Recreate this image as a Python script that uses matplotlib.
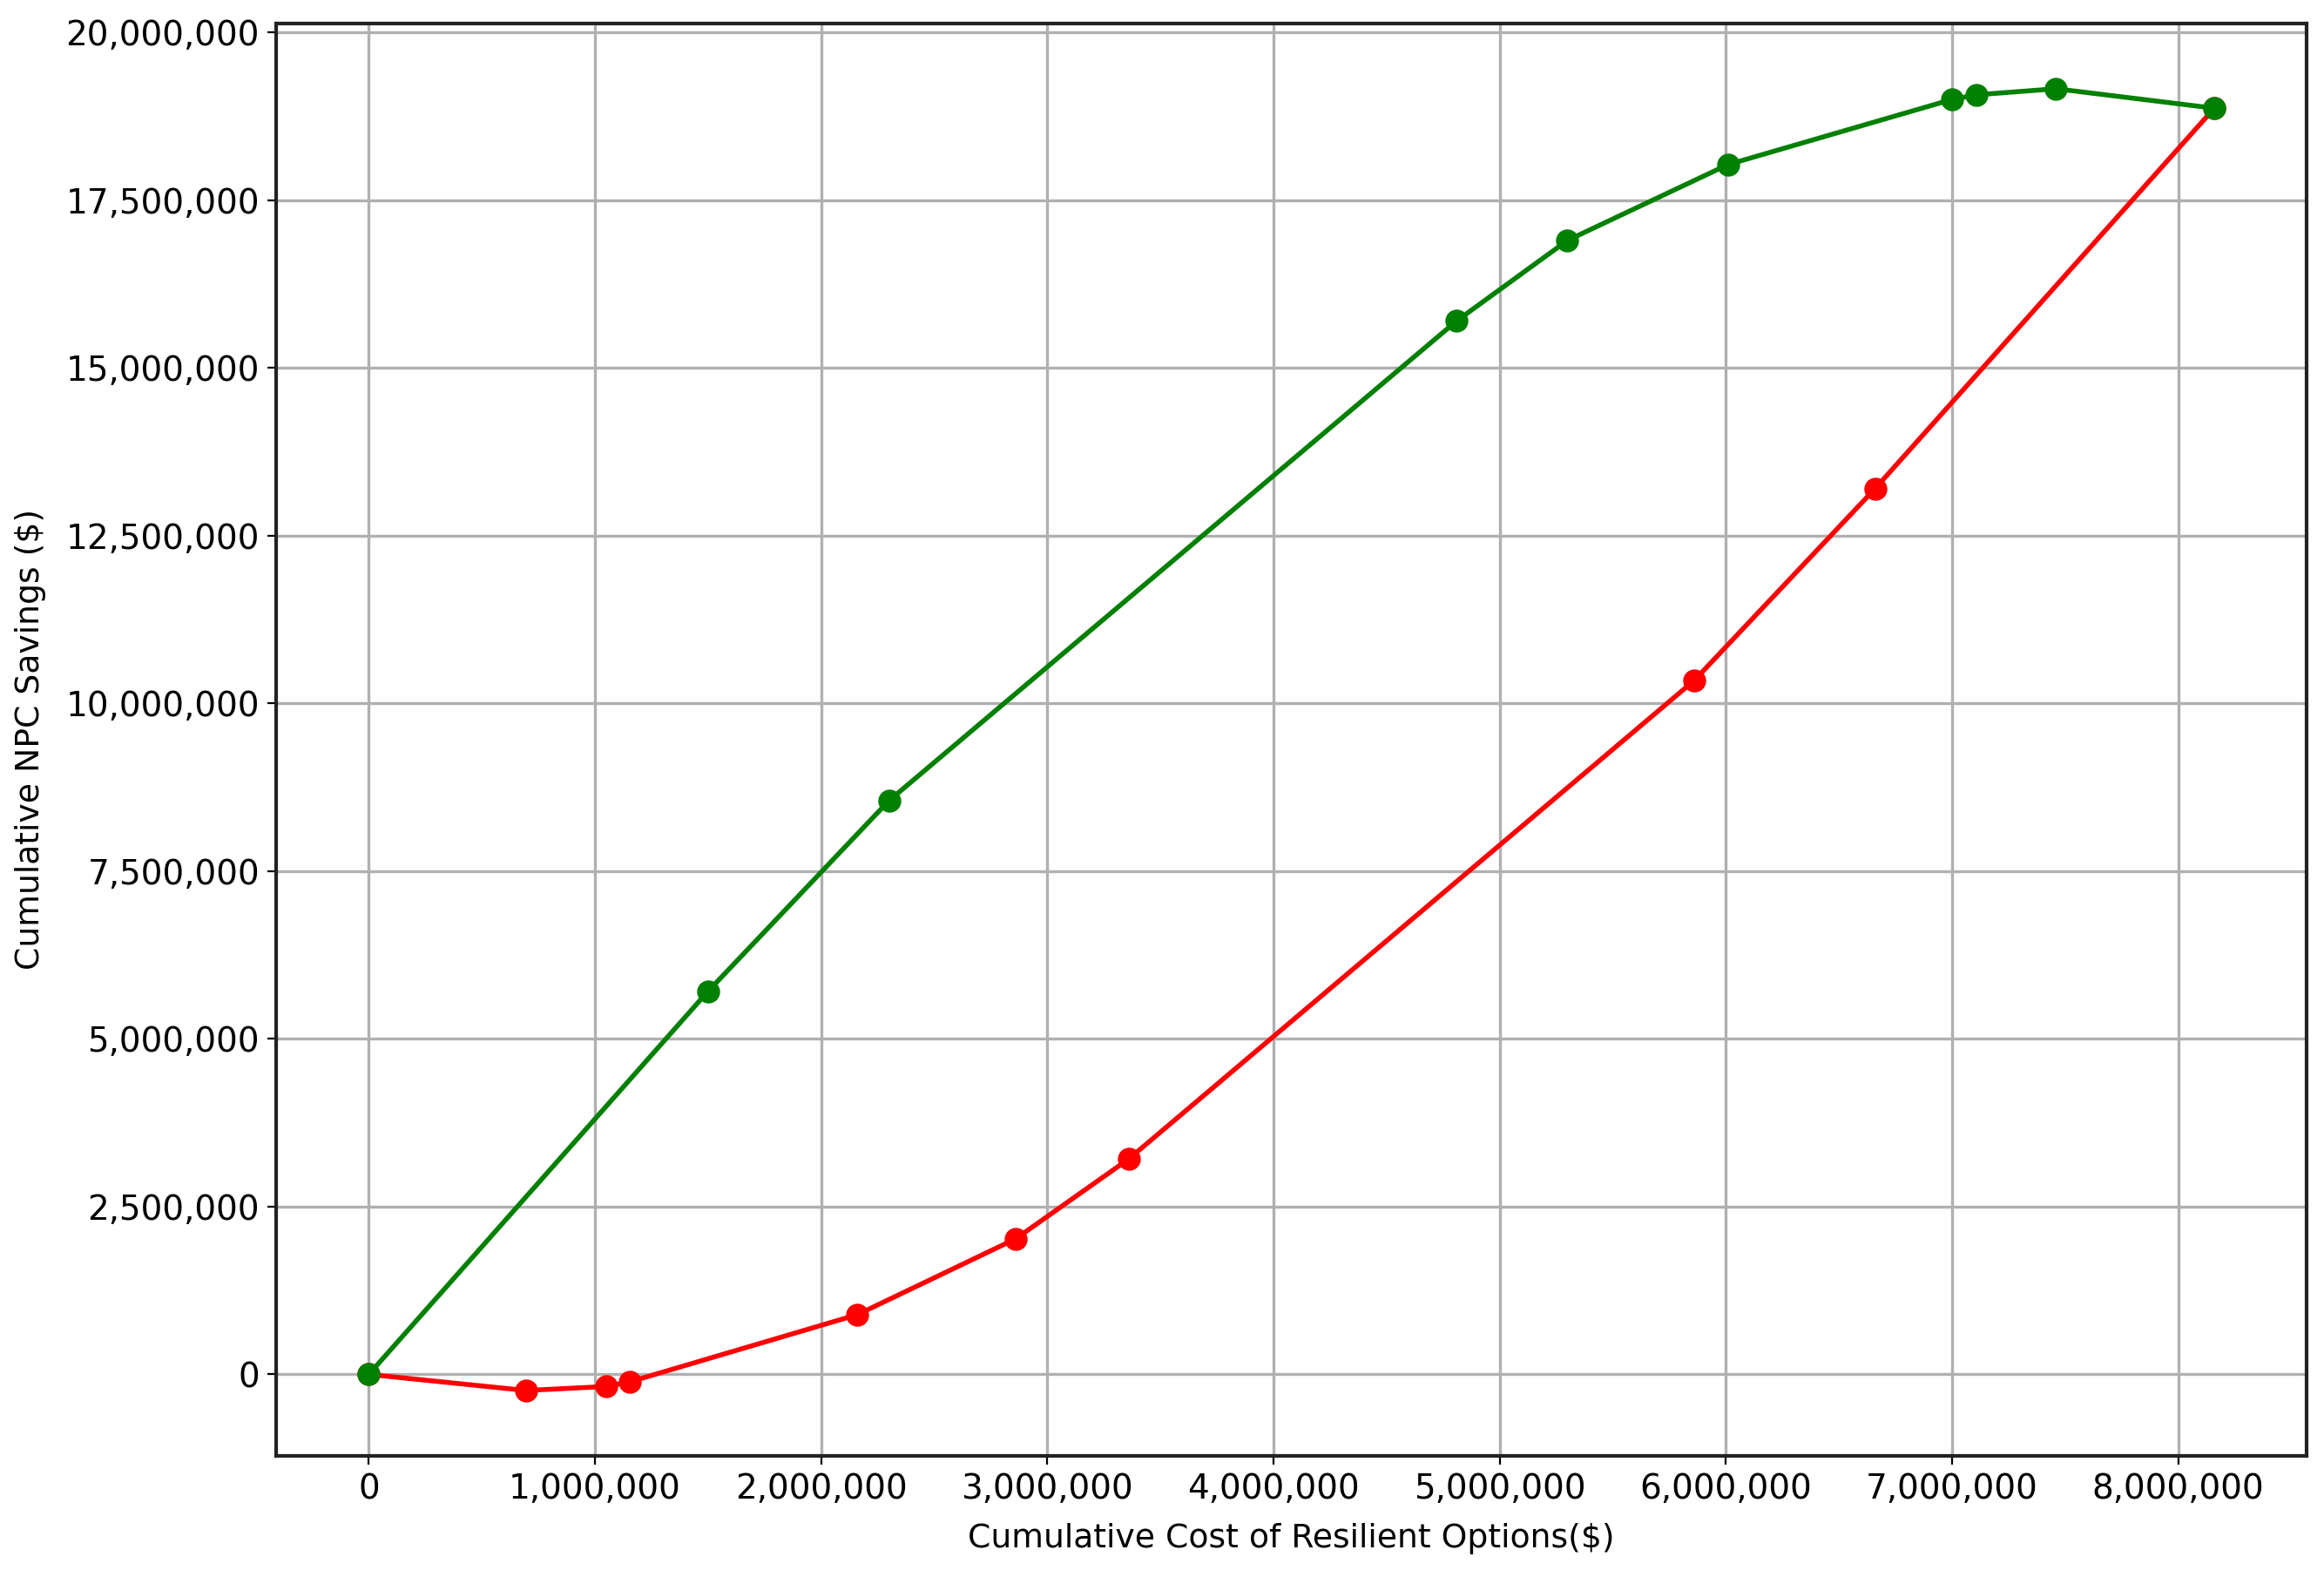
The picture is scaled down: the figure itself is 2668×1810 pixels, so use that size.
import matplotlib
matplotlib.use('Agg')
import matplotlib.pyplot as plt
from matplotlib.ticker import FuncFormatter

plt.rcParams['font.family'] = ['DejaVu Sans']
plt.rcParams['font.size'] = 14

# green series: cumulative cost vs cumulative NPC savings
green_cost = [0, 1500000, 2300000, 4810000, 5300000, 6010000, 7000000, 7110000, 7460000, 8160000]
green_sav = [0, 5710000, 8550000, 15700000, 16900000, 18030000, 19000000, 19070000, 19160000, 18870000]

# red series
red_cost = [0, 695000, 1050000, 1155000, 2160000, 2860000, 3360000, 5860000, 6660000, 8160000]
red_sav = [0, -240000, -180000, -110000, 890000, 2020000, 3210000, 10340000, 13200000, 18870000]

fig = plt.figure(figsize=(13.34, 9.05), dpi=200)
ax = fig.add_axes([0.119, 0.077, 0.8735, 0.908])

ax.plot(red_cost, red_sav, 'o-', color='red', lw=2, ms=8.5)
ax.plot(green_cost, green_sav, 'o-', color='green', lw=2, ms=8.5)

comma = FuncFormatter(lambda v, p: '{:,.0f}'.format(v))
ax.xaxis.set_major_formatter(comma)
ax.yaxis.set_major_formatter(comma)
ax.set_xticks(range(0, 8000001, 1000000))
ax.set_yticks(range(0, 20000001, 2500000))

ax.set_xlabel('Cumulative Cost of Resilient Options($)', fontsize=13.6, labelpad=7)
ax.set_ylabel('Cumulative NPC Savings ($)', fontsize=13.6, labelpad=8)
ax.grid(True, color='#b0b0b0', lw=1.2)
for s in ax.spines.values():
    s.set_linewidth(1.5)
    s.set_color('#222222')

fig.savefig('out.png', dpi=200)
